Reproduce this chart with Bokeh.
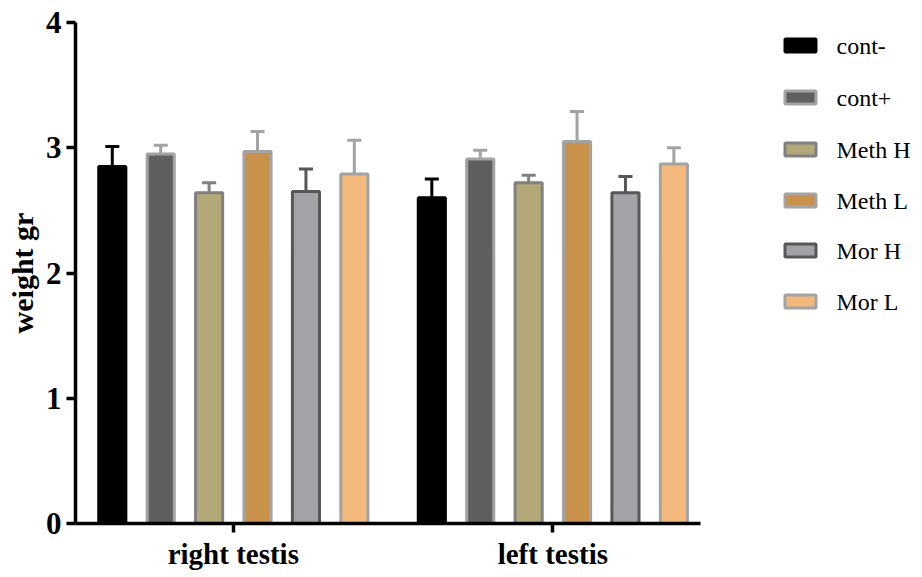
from bokeh.plotting import figure
from bokeh.models import Range1d, FixedTicker, ColumnDataSource
from bokeh.core.properties import value
from bokeh.embed import file_html
from bokeh.resources import INLINE

# ---- data ----
groups = ["right testis", "left testis"]
series = ["cont-", "cont+", "Meth H", "Meth L", "Mor H", "Mor L"]

cont_minus = [2.85, 2.60]
cont_plus = [2.95, 2.91]
meth_h = [2.64, 2.72]
meth_l = [2.97, 3.05]
mor_h = [2.65, 2.64]
mor_l = [2.79, 2.87]

cont_minus_err = [0.16, 0.15]
cont_plus_err = [0.07, 0.07]
meth_h_err = [0.08, 0.06]
meth_l_err = [0.16, 0.24]
mor_h_err = [0.18, 0.13]
mor_l_err = [0.27, 0.13]

values = [cont_minus, cont_plus, meth_h, meth_l, mor_h, mor_l]
errors = [cont_minus_err, cont_plus_err, meth_h_err, meth_l_err, mor_h_err, mor_l_err]

fill_colors = ["#000000", "#5f5f5f", "#b3a978", "#c8924c", "#a3a3a7", "#f3b87c"]
line_colors = ["#000000", "#a3a3a3", "#808080", "#a3a3a3", "#575757", "#a3a3a3"]

# ---- layout ----
group_centers = [0, 66]
offsets = [-25, -15, -5, 5, 15, 25]
bar_w = 5.6
cap_half = 1.45
axis_start, axis_end = -32.6, 96.5
FRAME_L, FRAME_T, FRAME_H = 75, 22, 501
FRAME_W = 840
scale = 625 / (axis_end - axis_start)
Y_MAX = 4

FONT = "Liberation Serif"

p = figure(frame_width=FRAME_W, frame_height=FRAME_H,
           min_border_left=FRAME_L, min_border_top=FRAME_T, min_border_right=2, min_border_bottom=47,
           x_range=Range1d(axis_start, axis_start + FRAME_W / scale), y_range=Range1d(0, Y_MAX),
           output_backend="svg", toolbar_location=None)

for i, name in enumerate(series):
    xs = [gc + offsets[i] for gc in group_centers]
    tops = values[i]
    et = [v + e for v, e in zip(values[i], errors[i])]
    src = ColumnDataSource(dict(x=xs, top=tops, et=et,
                                cl=[x - cap_half for x in xs], cr=[x + cap_half for x in xs]))
    p.segment(x0="x", y0="top", x1="x", y1="et", line_color=line_colors[i], line_width=3, source=src)
    p.segment(x0="cl", y0="et", x1="cr", y1="et", line_color=line_colors[i], line_width=3, source=src)
    p.vbar(x="x", top="top", bottom=0, width=bar_w, fill_color=fill_colors[i],
           line_color=line_colors[i], line_width=3, source=src)

# ---- legend (drawn beside the bars, positioned in screen pixels) ----
def px_to_x(px):
    return axis_start + (px - FRAME_L) / scale

def py_to_y(py):
    return (FRAME_T + FRAME_H - py) * Y_MAX / FRAME_H

leg_rows_py = [45, 97, 149, 200, 250, 301]
leg_y = [py_to_y(v) for v in leg_rows_py]
p.rect(x=[px_to_x(800)] * len(series), y=leg_y, width=31, height=13,
       width_units="screen", height_units="screen",
       fill_color=fill_colors, line_color=line_colors, line_width=3)
p.text(x=[px_to_x(836)] * len(series), y=leg_y, text=series,
       text_font=value(FONT), text_font_size="24px", text_color="black",
       text_baseline="middle", text_align="left")

p.xgrid.grid_line_color = None
p.ygrid.grid_line_color = None
p.outline_line_color = None

for ax in (p.xaxis[0], p.yaxis[0]):
    ax.axis_line_width = 3.5
    ax.axis_line_color = "black"
    ax.major_tick_line_width = 3.5
    ax.major_tick_line_color = "black"
    ax.major_tick_out = 9
    ax.major_tick_in = 0
    ax.minor_tick_line_color = None
    ax.major_label_text_font = FONT
    ax.major_label_text_font_style = "bold"
    ax.major_label_text_color = "black"

p.xaxis.bounds = (axis_start, axis_end)
p.xaxis.ticker = FixedTicker(ticks=group_centers)
p.xaxis.major_label_overrides = {group_centers[0]: groups[0], group_centers[1]: groups[1]}
p.xaxis.major_label_text_font_size = "29px"
p.xaxis.major_label_standoff = 5

p.yaxis.ticker = FixedTicker(ticks=[0, 1, 2, 3, 4])
p.yaxis.major_label_text_font_size = "31px"
p.yaxis.major_label_standoff = 5
p.yaxis.axis_label = "weight gr"
p.yaxis.axis_label_text_font = FONT
p.yaxis.axis_label_text_font_style = "bold"
p.yaxis.axis_label_text_font_size = "30px"
p.yaxis.axis_label_text_color = "black"
p.yaxis.axis_label_standoff = 4

open("out.html", "w").write(file_html(p, INLINE))
